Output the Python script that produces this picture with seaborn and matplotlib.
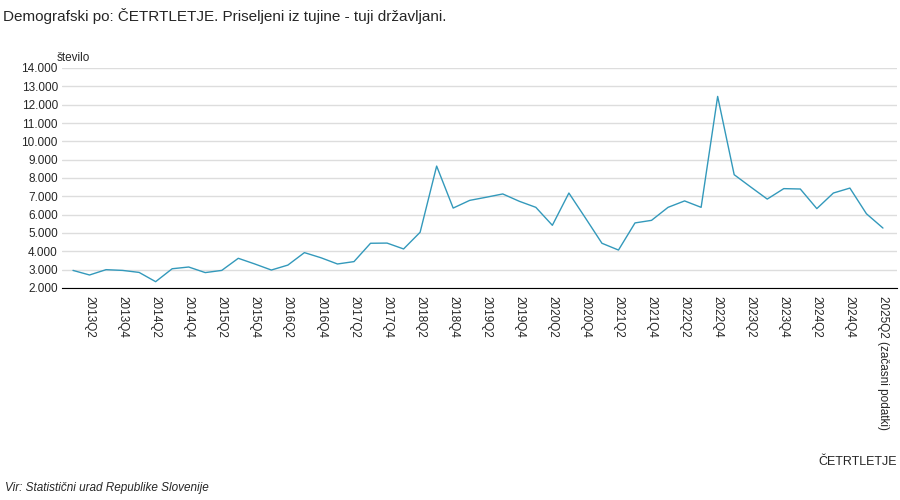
import matplotlib
matplotlib.use("Agg")
import matplotlib.pyplot as plt
import seaborn as sns
import pandas as pd

quarters = [f"{y}Q{q}" for y in range(2013, 2026) for q in range(1, 5)][:50]
values = [2960, 2710, 3000, 2960, 2850, 2345, 3050, 3145, 2840, 2960,
          3620, 3310, 2980, 3250, 3930, 3650, 3310, 3440, 4440, 4450,
          4130, 5040, 8650, 6360, 6780, 6950, 7130, 6730, 6400, 5420,
          7180, 5820, 4440, 4070, 5550, 5690, 6400, 6750, 6400, 12450,
          8180, 7510, 6850, 7420, 7400, 6330, 7180, 7450, 6050, 5270]
tick_labels = [q for q in quarters]
tick_labels[-1] = "2025Q2 (začasni podatki)"

df = pd.DataFrame({"idx": range(len(values)), "val": values})

sns.set_style("white")
plt.rcParams['font.family'] = ['Liberation Sans', 'DejaVu Sans']
fig = plt.figure(figsize=(9, 5), dpi=100)
ax = fig.add_axes([62 / 900, 1 - 288 / 500, 835 / 900, 220 / 500])
sns.lineplot(data=df, x="idx", y="val", ax=ax, color="#3399bb", linewidth=1)

ax.set_ylim(2000, 14000)
ax.set_xlim(-0.665, 49.85)
yt = list(range(2000, 14001, 1000))
ax.set_yticks(yt)
ax.set_yticklabels([f"{v:,}".replace(",", ".") for v in yt], fontsize=8.5)
ax.yaxis.grid(True, color="#dddddd", linewidth=1)
xt = list(range(1, 50, 2))
ax.set_xticks(xt)
ax.set_xticklabels([tick_labels[i] for i in xt], rotation=-90, fontsize=8.5, va="top")
ax.tick_params(axis="x", length=0, pad=6)
ax.tick_params(axis="y", length=0, pad=3)
for s in ["top", "right", "left"]:
    ax.spines[s].set_visible(False)
ax.spines["bottom"].set_color("black")
ax.set_xlabel("")
ax.set_ylabel("")

fig.text(0.003, 0.985, "Demografski po: ČETRTLETJE. Priseljeni iz tujine - tuji državljani.",
         fontsize=11, va="top", ha="left")
fig.text(73 / 900, 1 - 58 / 500, "število", fontsize=8.5, va="center", ha="center")
fig.text(897 / 900, 1 - 462 / 500, "ČETRTLETJE", fontsize=9, va="center", ha="right")
fig.text(5 / 900, 1 - 488 / 500, "Vir: Statistični urad Republike Slovenije",
         fontsize=8.5, style="italic", va="center", ha="left")

fig.savefig("out.png", dpi=100)
